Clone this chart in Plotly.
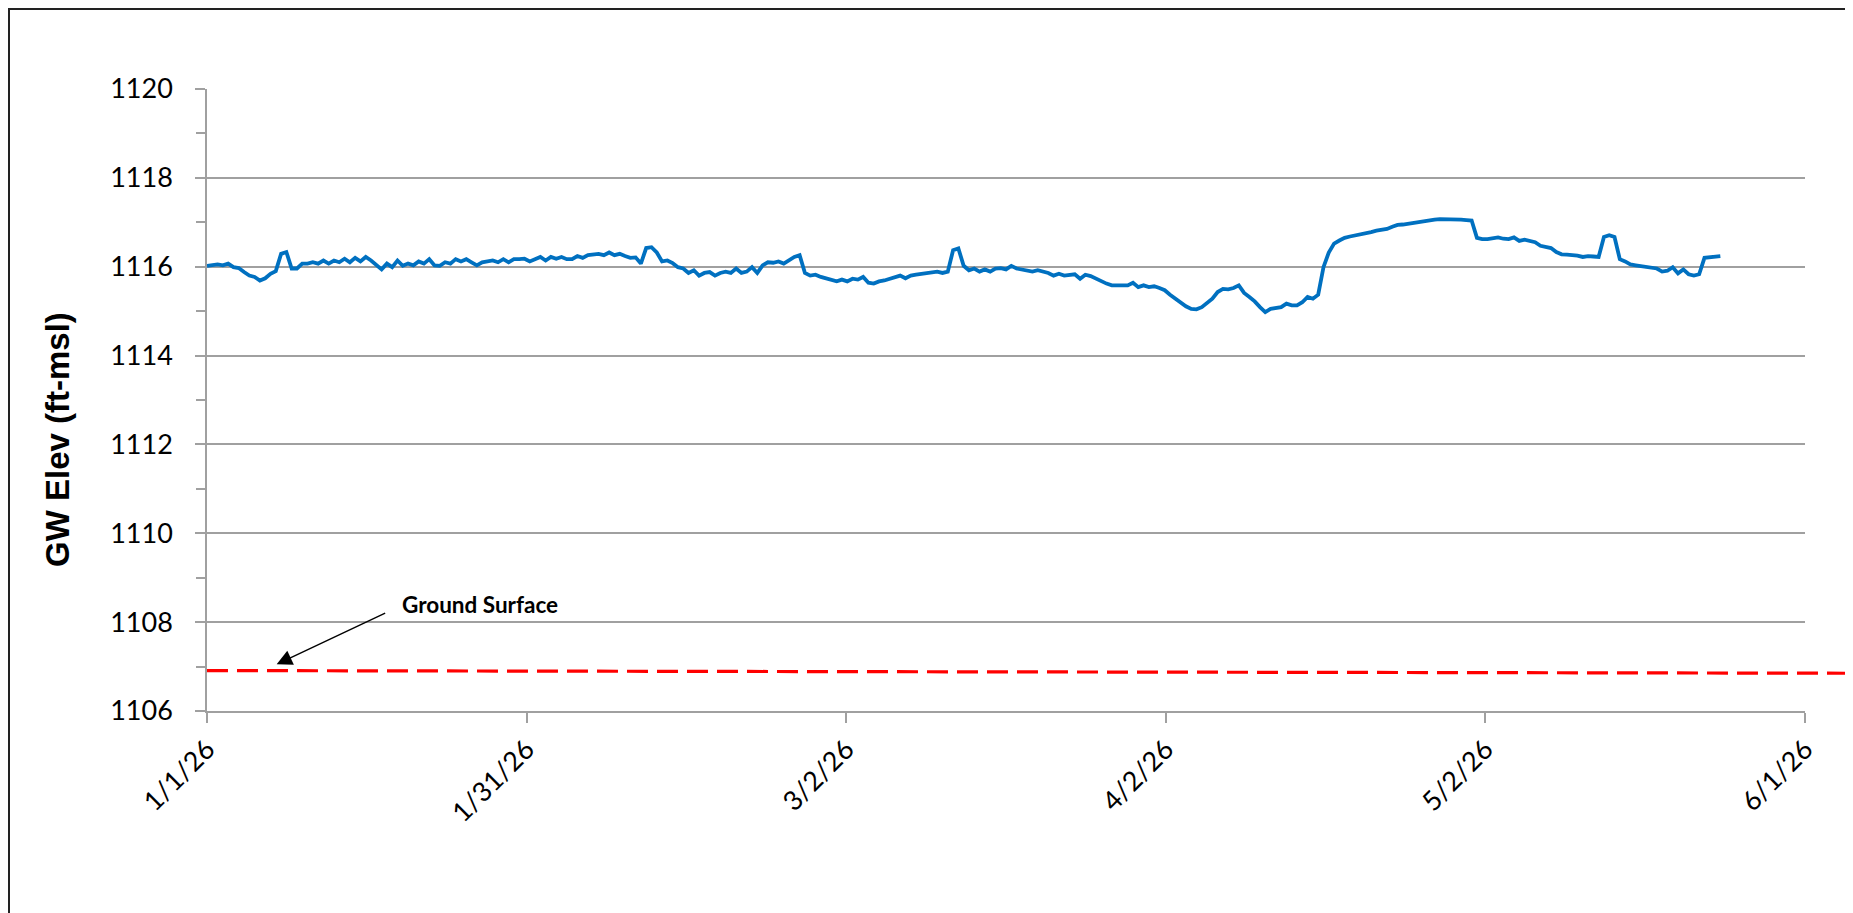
import pandas as pd
import plotly.graph_objects as go

# ---------------- data ----------------
start_date = "2026-01-01"
sample_step = "12h"
gw_elev = [
    1116.02, 1116.03, 1116.05, 1116.03, 1116.07, 1115.99, 1115.97, 1115.88, 1115.80, 1115.77,
    1115.69, 1115.74, 1115.84, 1115.90, 1116.29, 1116.33, 1115.96, 1115.96, 1116.07, 1116.07,
    1116.10, 1116.07, 1116.14, 1116.07, 1116.14, 1116.10, 1116.18, 1116.10, 1116.20, 1116.12,
    1116.22, 1116.14, 1116.03, 1115.94, 1116.07, 1115.99, 1116.14, 1116.02, 1116.07, 1116.03,
    1116.12, 1116.07, 1116.17, 1116.03, 1116.02, 1116.10, 1116.07, 1116.17, 1116.12, 1116.17,
    1116.10, 1116.03, 1116.10, 1116.12, 1116.14, 1116.10, 1116.17, 1116.10, 1116.17, 1116.17,
    1116.18, 1116.12, 1116.17, 1116.22, 1116.14, 1116.22, 1116.18, 1116.22, 1116.17, 1116.17,
    1116.24, 1116.20, 1116.26, 1116.27, 1116.29, 1116.26, 1116.32, 1116.26, 1116.29, 1116.24,
    1116.20, 1116.21, 1116.07, 1116.42, 1116.44, 1116.32, 1116.12, 1116.14, 1116.08, 1115.99,
    1115.96, 1115.86, 1115.92, 1115.80, 1115.86, 1115.88, 1115.80, 1115.86, 1115.89, 1115.86,
    1115.96, 1115.86, 1115.89, 1115.99, 1115.86, 1116.03, 1116.10, 1116.09, 1116.12, 1116.07,
    1116.14, 1116.22, 1116.26, 1115.86, 1115.80, 1115.82, 1115.77, 1115.74, 1115.69, 1115.67,
    1115.71, 1115.67, 1115.73, 1115.71, 1115.77, 1115.64, 1115.62, 1115.67, 1115.69, 1115.73,
    1115.77, 1115.80, 1115.74, 1115.80, 1115.82, 1115.84, 1115.86, 1115.88, 1115.89, 1115.86,
    1115.89, 1116.37, 1116.41, 1116.02, 1115.92, 1115.96, 1115.89, 1115.94, 1115.89, 1115.96,
    1115.97, 1115.94, 1116.02, 1115.96, 1115.94, 1115.92, 1115.89, 1115.92, 1115.89, 1115.86,
    1115.80, 1115.84, 1115.80, 1115.82, 1115.83, 1115.73, 1115.82, 1115.79, 1115.73, 1115.67,
    1115.62, 1115.58, 1115.59, 1115.58, 1115.58, 1115.64, 1115.54, 1115.58, 1115.54, 1115.56,
    1115.52, 1115.47, 1115.37, 1115.28, 1115.19, 1115.11, 1115.05, 1115.04, 1115.09, 1115.19,
    1115.28, 1115.43, 1115.50, 1115.49, 1115.52, 1115.58, 1115.41, 1115.32, 1115.22, 1115.09,
    1114.98, 1115.05, 1115.07, 1115.09, 1115.17, 1115.13, 1115.13, 1115.20, 1115.32, 1115.28,
    1115.37, 1115.99, 1116.32, 1116.52, 1116.59, 1116.65, 1116.68, 1116.70, 1116.73, 1116.74,
    1116.78, 1116.81, 1116.83, 1116.85, 1116.90, 1116.94, 1116.95, 1116.97, 1116.99, 1117.02,
    1117.04, 1117.05, 1117.06, 1117.07, 1117.07, 1117.06, 1117.08, 1117.06, 1117.05, 1117.04,
    1116.65, 1116.62, 1116.62, 1116.65, 1116.66, 1116.63, 1116.62, 1116.66, 1116.58, 1116.61,
    1116.59, 1116.55, 1116.47, 1116.44, 1116.42, 1116.33, 1116.28, 1116.27, 1116.27, 1116.25,
    1116.22, 1116.24, 1116.23, 1116.22, 1116.67, 1116.71, 1116.67, 1116.17, 1116.12, 1116.05,
    1116.03, 1116.01, 1115.99, 1115.99, 1115.96, 1115.89, 1115.91, 1115.99, 1115.85, 1115.94,
    1115.83, 1115.80, 1115.83, 1116.20, 1116.22, 1116.22, 1116.24,
]
ground_surface = [1106.91, 1106.85]      # start / end elevation of the dashed line
tick_labels = ["1/1/26", "1/31/26", "3/2/26", "4/2/26", "5/2/26", "6/1/26"]
tick_step_days = 30.2
x_range = ["2026-01-01", "2026-06-01"]
y_range = [1106, 1120]
annot_text = "Ground Surface"
annot_tip = ("2026-01-07 14:00", 1107.05)
annot_text_pos = ("2026-01-19 06:00", 1108.39)
y_title = "GW Elev (ft-msl)"

# ---------------- figure ----------------
dates = pd.date_range(start_date, periods=len(gw_elev), freq=sample_step)
tick_vals = [pd.Timestamp(start_date) + pd.Timedelta(days=tick_step_days * k)
             for k in range(len(tick_labels))]

GRID = "#A0A0A0"
W, H = 1845, 905            # page body adds an 8px offset
ML, MR, MT, MB = 199, 48, 81, 202
plot_w = W - ML - MR
plot_h = H - MT - MB

fig = go.Figure()
fig.add_trace(go.Scatter(
    x=dates, y=gw_elev, mode="lines",
    line=dict(color="#0070C0", width=3.8),
    hoverinfo="x+y", showlegend=False,
))

shapes = [
    # ground surface dashed line (spans the chart width, y in data units)
    dict(type="line", xref="paper", yref="y",
         x0=0, x1=(1840 - ML) / plot_w, y0=ground_surface[0], y1=ground_surface[1],
         line=dict(color="#FF0000", width=3.2, dash="21px,9px"), layer="above"),
    # chart outer border
    dict(type="rect", xref="paper", yref="paper",
         x0=(1 - ML) / plot_w, x1=(1840 - ML) / plot_w,
         y0=-0.4, y1=(H - MB - 1) / plot_h,
         line=dict(color="#222222", width=2), fillcolor="rgba(0,0,0,0)", layer="above"),
]

annotations = [
    dict(x=annot_tip[0], y=annot_tip[1], xref="x", yref="y", text="",
         showarrow=True, ax=110, ay=-52, axref="pixel", ayref="pixel",
         arrowhead=2, arrowsize=2.2, arrowwidth=1.4, arrowcolor="#000000"),
    dict(x=annot_text_pos[0], y=annot_text_pos[1], xref="x", yref="y",
         text="<b>" + annot_text + "</b>", showarrow=False,
         xanchor="left", yanchor="middle",
         font=dict(family="Lato", size=22.5, color="#000000")),
    dict(x=(49 - ML) / plot_w, y=(H - MB - 432) / plot_h, xref="paper", yref="paper",
         text="<b>" + y_title + "</b>", showarrow=False, textangle=-90,
         xanchor="center", yanchor="middle",
         font=dict(family="Liberation Sans", size=33, color="#000000")),
]

fig.update_layout(
    width=W, height=H,
    margin=dict(l=ML, r=MR, t=MT, b=MB, pad=0),
    paper_bgcolor="#FFFFFF", plot_bgcolor="#FFFFFF",
    shapes=shapes, annotations=annotations,
    showlegend=False,
    xaxis=dict(
        type="date", range=x_range,
        tickmode="array", tickvals=tick_vals, ticktext=tick_labels,
        tickangle=-45, tickfont=dict(family="Lato", size=27, color="#000000"),
        showgrid=False, zeroline=False,
        showline=True, linecolor=GRID, linewidth=1.5,
        ticks="outside", ticklen=10, tickwidth=1.5, tickcolor=GRID,
    ),
    yaxis=dict(
        range=y_range, tickmode="linear", tick0=1106, dtick=2,
        tickfont=dict(family="Lato", size=27, color="#000000"),
        showgrid=True, gridcolor=GRID, gridwidth=1.5, zeroline=False,
        showline=True, linecolor=GRID, linewidth=1.5,
        ticks="outside", ticklen=10, tickwidth=1.5, tickcolor=GRID,
        ticklabelstandoff=17,
        minor=dict(dtick=1, tick0=1106, ticks="outside", ticklen=9,
                   tickwidth=1.5, tickcolor=GRID, showgrid=False),
    ),
)

fig.write_html("out.html")
